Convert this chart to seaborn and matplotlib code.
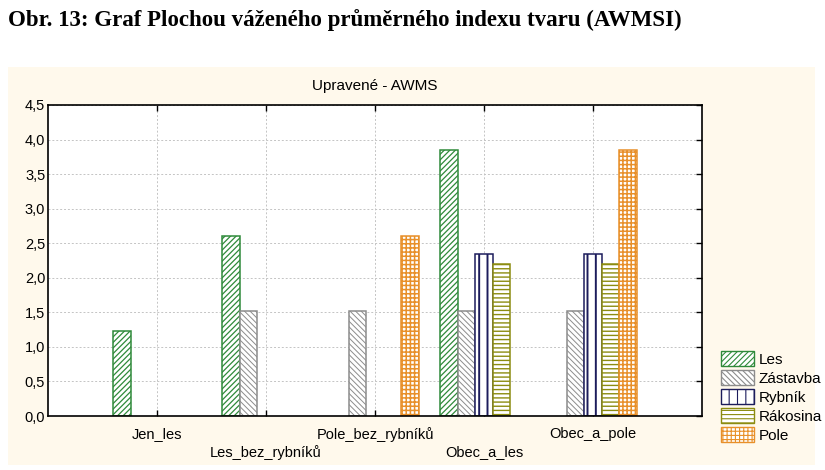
import numpy as np
import pandas as pd
import matplotlib.pyplot as plt
import matplotlib.patches as mpatches
import seaborn as sns

# Data
categories = ['Jen_les', 'Les_bez_rybníků', 'Pole_bez_rybníků', 'Obec_a_les', 'Obec_a_pole']
classes = ['Les', 'Zástavba', 'Rybník', 'Rákosina', 'Pole']
les = [1.23, 2.60, np.nan, 3.85, np.nan]
zastavba = [np.nan, 1.52, 1.52, 1.52, 1.52]
rybnik = [np.nan, np.nan, np.nan, 2.34, 2.34]
rakosina = [np.nan, np.nan, np.nan, 2.20, 2.20]
pole = [np.nan, np.nan, 2.60, np.nan, 3.85]

edge_colors = ['#2f8a3a', '#8c8c8c', '#1c1c5c', '#8c8c10', '#e8902a']
hatches = ['//////', '\\\\\\\\\\\\', '||', '----', '++++']
hatch_lw = [0.9, 0.7, 1.4, 1.0, 1.1]

series = [les, zastavba, rybnik, rakosina, pole]
rows = []
for cls, vals in zip(classes, series):
    for cat, v in zip(categories, vals):
        rows.append({'kategorie': cat, 'trida': cls, 'hodnota': v})
df = pd.DataFrame(rows)

sns.set_theme(style='white')
plt.rcParams['font.family'] = ['Liberation Sans', 'DejaVu Sans']
plt.rcParams['text.color'] = 'black'
plt.rcParams['hatch.linewidth'] = 0.8

fig = plt.figure(figsize=(8.25, 4.7), dpi=100)
fig.patch.set_facecolor('white')

# cream panel behind chart
fig.patches.append(mpatches.Rectangle((8 / 825, 5 / 470), 807 / 825, 398 / 470,
                                      transform=fig.transFigure, facecolor='#fff9ec',
                                      edgecolor='none', zorder=-5))

fig.text(8 / 825, 1 - 20 / 470, 'Obr. 13: Graf Plochou váženého průměrného indexu tvaru (AWMSI)',
         family='Liberation Serif', fontsize=16.5, fontweight='bold', va='center', ha='left',
         color='black')

ax = fig.add_axes([48 / 825, 54 / 470, 654 / 825, 311 / 470])
ax.set_zorder(2)
ax.set_facecolor('white')

sns.barplot(data=df, x='kategorie', y='hodnota', hue='trida', order=categories,
            hue_order=classes, ax=ax, width=0.8, legend=False)

for cont, col, h, hlw in zip(ax.containers, edge_colors, hatches, hatch_lw):
    for bar in cont:
        bar.set_facecolor('white')
        bar.set_edgecolor(col)
        bar.set_hatch(h)
        bar.set_linewidth(1.1)
        if hasattr(bar, 'set_hatch_linewidth'):
            bar.set_hatch_linewidth(hlw)

ax.set_xlim(-1, 5)
ax.set_ylim(0, 4.5)
ax.set_yticks(np.arange(0, 4.51, 0.5))
ax.set_yticklabels([f'{t:.1f}'.replace('.', ',') for t in np.arange(0, 4.51, 0.5)])
ax.set_xticks(range(len(categories)))
ax.set_xticklabels([c if i % 2 == 0 else '\n' + c for i, c in enumerate(categories)])
for lab in ax.get_xticklabels():
    lab.set_linespacing(1.35)
ax.set_xlabel('')
ax.set_ylabel('')
ax.grid(True, color='#c4c4c4', linestyle=(0, (2, 2)), linewidth=0.7)
ax.set_axisbelow(True)
ax.tick_params(axis='x', direction='in', length=4, width=1, colors='black',
               labelsize=10.5, top=True, bottom=True, pad=8)
ax.tick_params(axis='y', direction='in', length=4, width=1, colors='black',
               labelsize=10.5, left=False, right=True, pad=2)
for s in ax.spines.values():
    s.set_color('black')
    s.set_linewidth(1.2)

ax.set_title('Upravené - AWMS', fontsize=11, pad=11, color='black')

handles = [mpatches.Patch(facecolor='white', edgecolor=c, hatch=h, label=l)
           for c, h, l in zip(edge_colors, hatches, classes)]
fig.legend(handles=handles, loc='center left', bbox_to_anchor=(713 / 825, 73 / 470),
           frameon=False, fontsize=11, handlelength=2.2, handleheight=1.1,
           labelspacing=0.22, handletextpad=0.3, borderpad=0)

fig.savefig('out.png', dpi=100)
